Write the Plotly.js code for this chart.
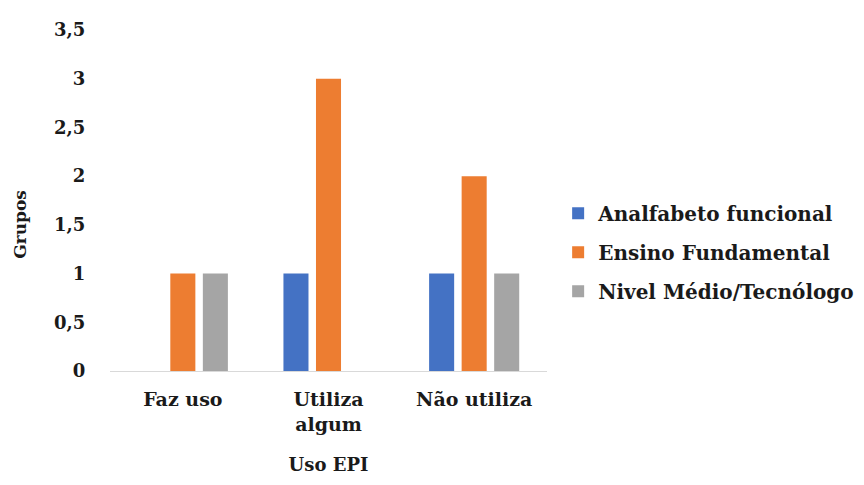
<!DOCTYPE html>
<html>
<head>
<meta charset="utf-8">
<script src="https://cdn.plot.ly/plotly-3.0.1.min.js"></script>
<style>
  html, body { margin: 0; padding: 0; background: #ffffff; }
  #chart { width: 864px; height: 485px; }
</style>
</head>
<body>
<div id="chart"></div>
<script>
// Categories on the x axis
const categories = ["Faz uso", "Utiliza<br>algum", "Não utiliza"];

// Values per education level
const analfabeto = [0, 1, 1];
const fundamental = [1, 3, 2];
const medio = [1, 0, 1];

const seriesNames = ["Analfabeto funcional", "Ensino Fundamental", "Nivel Médio/Tecnólogo"];
const seriesColors = ["#4472C4", "#ED7D31", "#A5A5A5"];

// Y axis ticks with comma decimals
const yTickVals = [0, 0.5, 1, 1.5, 2, 2.5, 3, 3.5];
const yTickText = ["0", "0,5", "1", "1,5", "2", "2,5", "3", "3,5"];

const font = "DejaVu Serif";
const ink = "#1a1a1a";

const traces = [analfabeto, fundamental, medio].map((vals, i) => ({
  type: "bar",
  x: categories,
  y: vals,
  name: seriesNames[i],
  legendgroup: "g" + i,
  marker: { color: seriesColors[i] },
  hoverinfo: "x+y+name"
}));

const layout = {
  width: 864,
  height: 485,
  margin: { l: 110, r: 317, t: 30, b: 114 },
  paper_bgcolor: "#ffffff",
  plot_bgcolor: "#ffffff",
  barmode: "group",
  bargap: 0.33,
  bargroupgap: 0.23,
  font: { family: font, color: ink, size: 18 },
  xaxis: {
    showgrid: false,
    zeroline: false,
    showline: true,
    linecolor: "#d9d9d9",
    linewidth: 1,
    ticks: "outside",
    ticklen: 11,
    tickcolor: "rgba(0,0,0,0)",
    tickfont: { family: font, size: 19, color: ink, weight: "bold" },
    title: { text: "<b>Uso EPI</b>", font: { family: font, size: 18, color: ink }, standoff: 24 }
  },
  yaxis: {
    range: [0, 3.5],
    tickvals: yTickVals,
    ticktext: yTickText,
    showgrid: false,
    zeroline: false,
    showline: false,
    ticks: "outside",
    ticklen: 20,
    tickcolor: "rgba(0,0,0,0)",
    tickfont: { family: font, size: 18, color: ink, weight: "bold" }
  },
  annotations: [{
    text: "<b>Grupos</b>",
    textangle: -90,
    xref: "paper",
    yref: "paper",
    x: -0.205,
    y: 0.43,
    xanchor: "center",
    yanchor: "middle",
    showarrow: false,
    font: { family: font, size: 17, color: ink }
  }],
  legend: {
    xref: "container",
    yref: "container",
    x: 0.646,
    y: 0.48,
    xanchor: "left",
    yanchor: "middle",
    traceorder: "grouped",
    tracegroupgap: 10,
    font: { family: font, size: 20, color: ink, weight: "bold" },
    itemwidth: 30,
    bgcolor: "rgba(0,0,0,0)"
  },
  showlegend: true
};

Plotly.newPlot("chart", traces, layout, { displayModeBar: false, staticPlot: true });
</script>
</body>
</html>
